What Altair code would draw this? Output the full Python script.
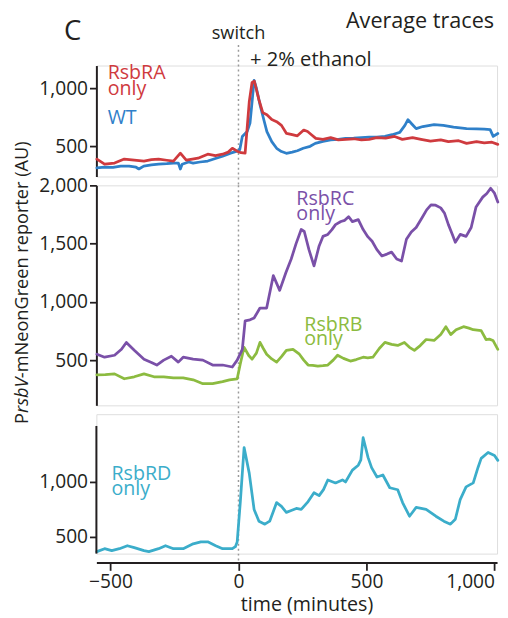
import altair as alt
import pandas as pd

FONT = "Open Sans"
INK = "#231f20"

# ---------------- data (time in minutes, reporter in AU) ----------------
ra_t = [-553, -523, -484, -446, -407, -369, -340, -312, -280, -254, -227, -204, -180, -158, -120, -90, -62, -40, -24, -5,
        10, 26, 42, 53, 62, 80, 95, 111, 130, 149, 168, 187, 210, 230, 255, 270, 285, 302, 330, 360, 390, 420, 450, 480,
        510, 540, 575, 610, 640, 680, 713, 750, 790, 820, 860, 891, 930, 960, 990, 1013]
ra_v = [390, 347, 356, 390, 381, 373, 385, 390, 380, 373, 441, 381, 390, 398, 432, 420, 432, 450, 483, 458,
        445, 441, 881, 1050, 1060, 900, 790, 771, 730, 712, 680, 612, 600, 590, 640, 627, 600, 568, 560, 575, 555, 560, 565, 555,
        560, 575, 570, 585, 560, 575, 560, 545, 555, 540, 548, 525, 540, 530, 535, 517]

wt_t = [-553, -523, -490, -460, -427, -400, -389, -370, -340, -312, -280, -254, -235, -227, -220, -195, -177, -150, -120, -90,
        -62, -31, -5, 5, 15, 34, 45, 53, 61, 70, 85, 100, 111, 130, 149, 168, 187, 210, 230, 253, 280, 300, 330, 360, 390,
        418, 450, 480, 510, 540, 572, 600, 630, 650, 662, 678, 694, 720, 764, 800, 840, 891, 930, 960, 983, 995, 1013]
wt_v = [314, 320, 318, 330, 330, 320, 305, 330, 340, 347, 350, 356, 356, 305, 345, 365, 356, 365, 373, 395,
        415, 441, 458, 470, 585, 627, 700, 881, 1068, 1000, 850, 720, 627, 540, 483, 455, 440, 450, 462, 483, 500, 525, 542, 555, 560,
        568, 570, 575, 578, 580, 585, 600, 620, 680, 729, 690, 652, 670, 686, 680, 665, 652, 650, 648, 644, 585, 610]

rc_t = [-553, -523, -484, -457, -438, -407, -369, -340, -319, -292, -262, -235, -216, -177, -139, -101, -62, -24, -5, 15,
        26, 45, 61, 84, 110, 136, 161, 185, 206, 225, 245, 257, 275, 295, 315, 330, 349, 365, 379, 400, 415, 430, 445, 468,
        487, 505, 522, 540, 560, 580, 598, 618, 637, 656, 675, 694, 717, 735, 752, 770, 790, 805, 820, 835, 847, 866, 889,
        909, 928, 954, 970, 985, 1000, 1013]
rc_v = [551, 525, 542, 593, 652, 584, 508, 480, 458, 500, 534, 483, 525, 508, 500, 458, 458, 441, 500, 593,
        837, 846, 862, 947, 947, 1225, 1099, 1250, 1368, 1500, 1621, 1604, 1450, 1309, 1480, 1562, 1579, 1620, 1663, 1690, 1700, 1731, 1689, 1706,
        1621, 1560, 1520, 1450, 1394, 1410, 1427, 1368, 1351, 1537, 1600, 1638, 1722, 1790, 1832, 1830, 1807, 1760, 1663, 1580, 1512, 1579, 1562,
        1638, 1815, 1899, 1930, 1975, 1933, 1857]

rb_t = [-553, -520, -484, -446, -407, -369, -330, -292, -254, -216, -177, -139, -101, -62, -35, -5, 7, 22, 40, 53,
        70, 84, 97, 110, 130, 149, 168, 187, 213, 238, 255, 272, 290, 310, 330, 349, 370, 387, 410, 437, 460, 487, 505,
        525, 550, 572, 598, 622, 648, 668, 687, 710, 733, 764, 790, 810, 829, 850, 879, 900, 917, 948, 967, 980, 994, 1013]
rb_v = [374, 376, 382, 340, 357, 382, 357, 357, 348, 348, 331, 298, 298, 315, 331, 340, 466, 610, 540, 508,
        560, 652, 600, 551, 510, 483, 530, 584, 593, 551, 500, 458, 455, 449, 452, 458, 500, 542, 515, 492, 505, 525, 520,
        525, 600, 652, 635, 626, 652, 610, 584, 625, 677, 669, 720, 787, 719, 760, 787, 775, 761, 753, 677, 680, 669, 593]

rd_t = [-553, -523, -495, -465, -434, -407, -369, -350, -312, -285, -254, -216, -177, -147, -120, -89, -62, -24, -12, -5,
        7, 22, 42, 61, 80, 103, 122, 149, 168, 187, 206, 226, 245, 272, 295, 315, 332, 349, 379, 406, 418, 445, 468, 478,
        487, 506, 520, 541, 564, 591, 622, 641, 668, 694, 733, 771, 802, 828, 847, 866, 889, 917, 936, 948, 975, 1000, 1013]
rd_v = [366, 393, 375, 393, 420, 402, 375, 366, 393, 420, 393, 393, 437, 455, 455, 420, 393, 393, 411, 455,
        812, 1313, 1080, 750, 643, 616, 643, 812, 777, 723, 740, 759, 750, 821, 902, 875, 930, 1018, 991, 1018, 1000, 1107, 1152, 1200,
        1402, 1223, 1130, 1045, 1063, 947, 929, 812, 688, 768, 750, 688, 643, 616, 661, 839, 955, 991, 1134, 1214, 1268, 1241, 1196]

x_ticks = [-500, 0, 500, 1000]
top_ticks = [500, 1000]
mid_ticks = [500, 1000, 1500, 2000]
bot_ticks = [500, 1000]

COL = {"RsbRA": "#cf3a3e", "WT": "#2f80c9", "RsbRC": "#7a50a8", "RsbRB": "#8cbb40", "RsbRD": "#3badca"}

X_DOMAIN = [-555, 1010]
W = 408
H1, H2 = 113, 224
GAP = 9
H3_TOP = 12         # empty strip above panel 3 (the reference gap there is larger)
H3 = 130 + H3_TOP
Y3_LO = 348
Y3_HI = 1509 + H3_TOP * 8.93


def df_of(t, v):
    return pd.DataFrame({"t": t, "v": v})


def xenc(axis=None):
    return alt.X("t:Q", scale=alt.Scale(domain=X_DOMAIN, nice=False, zero=False), axis=axis)


def yenc(domain, ticks, show_domain=True):
    return alt.Y("v:Q", scale=alt.Scale(domain=domain, nice=False, zero=False),
                 axis=alt.Axis(values=ticks, format=",d", title=None, grid=False, domain=show_domain,
                               domainColor=INK, domainWidth=2, tickColor=INK, tickWidth=1.8,
                               tickSize=7, labelFont=FONT, labelFontSize=19.5, labelColor=INK,
                               labelPadding=2))


def line(t, v, color, xaxis, ye):
    return alt.Chart(df_of(t, v)).mark_line(color=color, strokeWidth=2.8, strokeJoin="round",
                                            strokeCap="round").encode(x=xenc(xaxis), y=ye)


def label(rows, color, xaxis, ye):
    d = pd.DataFrame(rows, columns=["t", "v", "text"])
    return alt.Chart(d).mark_text(align="left", baseline="alphabetic", font=FONT, fontSize=20,
                                  color=color).encode(x=xenc(xaxis), y=ye, text="text:N")


def rule(y0, y1, xaxis):
    return alt.Chart(pd.DataFrame({"t": [0]})).mark_rule(
        color="#9a9a9a", strokeWidth=1.5, strokeDash=[2, 3]).encode(
        x=xenc(xaxis), y=alt.value(y0), y2=alt.value(y1))


# ---------------- panel 1 ----------------
ye1 = yenc([240, 1195], top_ticks)
p1 = alt.layer(
    rule(-21, H1 + GAP, None),
    line(wt_t, wt_v, COL["WT"], None, ye1),
    line(ra_t, ra_v, COL["RsbRA"], None, ye1),
    label([(-511, 1076, "RsbRA"), (-511, 940, "only")], COL["RsbRA"], None, ye1),
    label([(-511, 695, "WT")], COL["WT"], None, ye1),
    alt.Chart(pd.DataFrame({"t": [0], "text": ["switch"]})).mark_text(
        align="center", baseline="alphabetic", font=FONT, fontSize=18.5, color=INK).encode(
        x=xenc(None), y=alt.value(-27), text="text:N"),
    alt.Chart(pd.DataFrame({"t": [45], "text": ["+ 2% ethanol"]})).mark_text(
        align="left", baseline="alphabetic", font=FONT, fontSize=20.5, color=INK).encode(
        x=xenc(None), y=alt.value(0), text="text:N"),
    alt.Chart(pd.DataFrame({"text": ["C"]})).mark_text(
        align="left", baseline="alphabetic", font=FONT, fontSize=28, color=INK).encode(
        x=alt.value(-33), y=alt.value(-26), text="text:N"),
    alt.Chart(pd.DataFrame({"text": ["Average traces"]})).mark_text(
        align="right", baseline="alphabetic", font=FONT, fontSize=22, color=INK).encode(
        x=alt.value(405), y=alt.value(-38), text="text:N"),
).properties(width=W, height=H1)

# ---------------- panel 2 ----------------
ye2 = yenc([112, 2000], mid_ticks)
ytitle = [("P", 243, "normal"), ("rsbV", 231.8, "italic"), ("-mNeonGreen reporter (AU)", 196.3, "normal")]
title_layers = [
    alt.Chart(pd.DataFrame({"text": [s]})).mark_text(
        align="left", baseline="alphabetic", angle=270, font=FONT, fontSize=18.5, fontStyle=st,
        color=INK).encode(x=alt.value(-69.5), y=alt.value(yy), text="text:N")
    for s, yy, st in ytitle
]
p2 = alt.layer(
    rule(0, H2 + GAP + H3_TOP, None),
    line(rb_t, rb_v, COL["RsbRB"], None, ye2),
    line(rc_t, rc_v, COL["RsbRC"], None, ye2),
    label([(226, 1832, "RsbRC"), (226, 1705, "only")], COL["RsbRC"], None, ye2),
    label([(257, 753, "RsbRB"), (257, 626, "only")], COL["RsbRB"], None, ye2),
    *title_layers,
).properties(width=W, height=H2)

# ---------------- panel 3 ----------------
# domain top includes the empty strip; the axis line itself is drawn only over the data part
ye3 = yenc([Y3_LO, Y3_HI], bot_ticks, show_domain=False)
xaxis = alt.Axis(values=x_ticks, format=",d", grid=False, offset=9, labelFlush=False,
                 labelAlign={"condition": {"test": "datum.value == 1000", "value": "right"}, "value": "center"},
                 domainColor=INK, domainWidth=2, tickColor=INK, tickWidth=1.8, tickSize=8,
                 labelFont=FONT, labelFontSize=19.5, labelColor=INK, labelPadding=3,
                 title="time (minutes)", titleFont=FONT, titleFontSize=20, titleFontWeight="normal",
                 titleColor=INK, titleX=214, titleY=49, titleAlign="center", titleBaseline="alphabetic")
yline3 = alt.Chart(pd.DataFrame({"t": [0]})).mark_rule(color=INK, strokeWidth=2).encode(
    x=alt.value(0), y=alt.value(H3_TOP), y2=alt.value(H3))
p3 = alt.layer(
    rule(H3_TOP, H3 + 9, xaxis),
    line(rd_t, rd_v, COL["RsbRD"], xaxis, ye3),
    label([(-496, 1018, "RsbRD"), (-496, 884, "only")], COL["RsbRD"], xaxis, ye3),
    yline3,
).properties(width=W, height=H3)

chart = alt.vconcat(p1, p2, p3, spacing=GAP, bounds="flush").properties(
    padding={"left": 4, "top": -4, "right": 0, "bottom": 0}
).configure_view(stroke=None).configure(background="white")

chart.save("out.html", embed_options={"renderer": "svg", "actions": False})
